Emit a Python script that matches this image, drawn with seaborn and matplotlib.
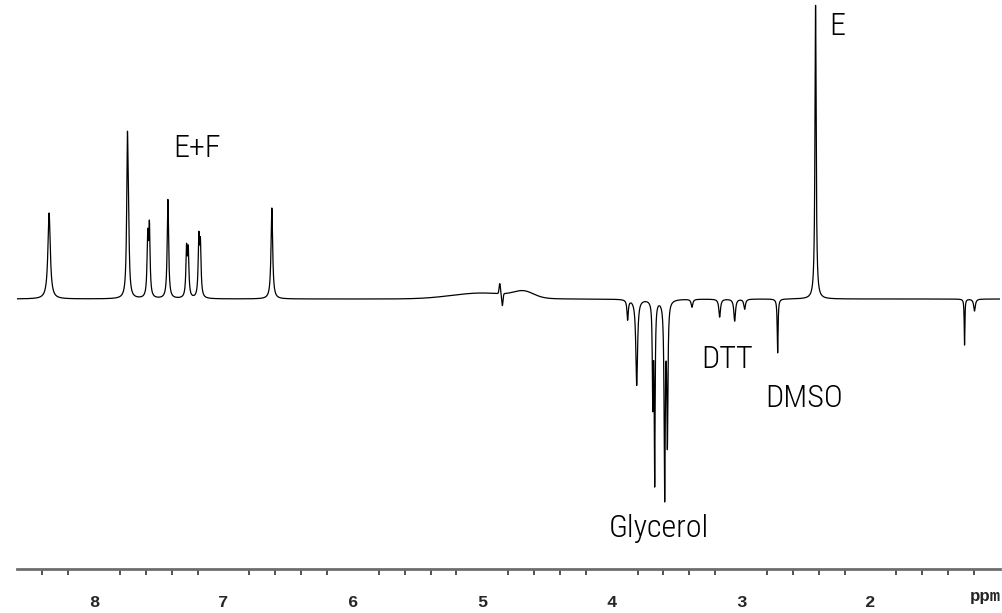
import numpy as np
import pandas as pd
import matplotlib
matplotlib.use("Agg")
import matplotlib.pyplot as plt
from matplotlib import font_manager
import seaborn as sns

# ---- data (ppm, height in display units, line width in ppm) ----
peak_ppm = [8.347, 7.742, 7.734, 7.585, 7.572, 7.429, 7.285, 7.272, 7.190, 7.178, 6.626,
            2.425,
            3.877, 3.807, 3.683, 3.668, 3.591, 3.570,
            3.380, 3.166, 3.050, 2.973, 2.718, 1.274, 1.197]
peak_height = [86, 145, 55, 58, 68, 99, 47, 45, 57, 50, 91,
               294,
               -20, -86, -100, -180, -195, -140,
               -8, -18, -22, -10, -54, -46, -12]
peak_width = [0.022, 0.013, 0.013, 0.012, 0.012, 0.013, 0.012, 0.012, 0.012, 0.012, 0.015,
              0.011,
              0.012, 0.016, 0.008, 0.008, 0.010, 0.010,
              0.015, 0.015, 0.015, 0.015, 0.008, 0.006, 0.015]
# broad baseline features around the water signal (ppm, height, width)
hump_ppm = [5.00, 4.68, 4.865, 4.845]
hump_height = [6, 6, 10, -12]
hump_width = [0.55, 0.18, 0.012, 0.012]

labels = ["E+F", "E", "DTT", "DMSO", "Glycerol"]
label_ppm = [7.205, 2.255, 3.112, 2.517, 3.637]
label_y = [142, 264, -69, -108, -238]

tick_major = [8, 7, 6, 5, 4, 3, 2, 1]
tick_labels = ["8", "7", "6", "5", "4", "3", "2", ""]

# ---- build spectrum ----
ppm = np.linspace(8.595, 1.0, 12000)
intensity = np.zeros_like(ppm)
for c, h, w in zip(peak_ppm, peak_height, peak_width):
    intensity += h / (1 + ((ppm - c) / (w / 2)) ** 2)
for c, h, w in zip(hump_ppm, hump_height, hump_width):
    intensity += h * np.exp(-0.5 * ((ppm - c) / (w / 2.355)) ** 2)
df = pd.DataFrame({"ppm": ppm, "intensity": intensity})

sns.set_style("white")
names = {f.name for f in font_manager.fontManager.ttflist}
label_font = "DejaVu Sans"
for cand in ["Roboto Condensed", "Liberation Sans Narrow", "Open Sans Condensed"]:
    if cand in names:
        label_font = cand
        break

fig = plt.figure(figsize=(10.02, 6.13), dpi=100)
ax = fig.add_axes([17 / 1002, 44 / 613, 983 / 1002, 569 / 613])
sns.lineplot(data=df, x="ppm", y="intensity", ax=ax, color="black",
             linewidth=0.9, estimator=None, sort=False)

ax.set_xlim(8.595, 1.0)
ax.set_ylim(-270, 299)
for s in ["top", "left", "right"]:
    ax.spines[s].set_visible(False)
ax.spines["bottom"].set_color("#6e6e6e")
ax.spines["bottom"].set_linewidth(2.0)
ax.set_yticks([])
ax.set_xticks(tick_major)
ax.set_xticklabels(tick_labels, fontfamily="Liberation Mono", fontweight="bold", fontsize=12.5)
ax.set_xticks(np.arange(1.2, 8.6, 0.2), minor=True)
ax.tick_params(axis="x", which="major", direction="out", length=9.5, width=1.3,
               color="#222222", pad=9)
ax.tick_params(axis="x", which="minor", direction="out", length=4.5, width=1.1,
               color="#222222", bottom=True)
ax.set_xlabel("")
ax.set_ylabel("")
ax.text(1.115, -0.036, "ppm", transform=ax.get_xaxis_transform(), ha="center", va="top",
        fontfamily="Liberation Mono", fontweight="bold", fontsize=12.5)

for t, xp, yp in zip(labels, label_ppm, label_y):
    ax.text(xp, yp, t, ha="center", va="baseline", fontfamily=label_font,
            fontstretch="condensed", fontweight="light", fontsize=23, color="black")

fig.savefig("out.png", dpi=100)
